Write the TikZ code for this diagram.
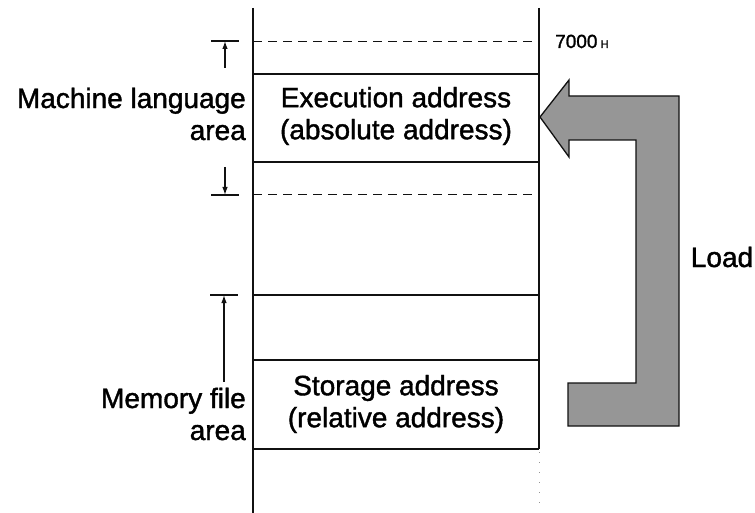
\documentclass[tikz,border=0pt]{standalone}
\usepackage{fontspec}
\setmainfont{Liberation Sans}[FakeBold=1.4]
\usetikzlibrary{arrows.meta,calc}
\definecolor{ink}{HTML}{111111}
\definecolor{stipple}{HTML}{969696}

\begin{document}
\begin{tikzpicture}[
  x=1pt, y=-1pt,
  font=\fontsize{28}{32}\selectfont,
  rule/.style={draw=ink, line width=1.1pt},
  boundary/.style={draw=ink, line width=.8pt, dash pattern=on 9pt off 6pt},
  extent/.style={draw=ink, line width=1.2pt, -{Latex[length=8pt,width=5.5pt]}},
  label/.style={inner sep=0pt, align=center},
  side/.style={inner sep=0pt, align=right, anchor=east},
  address/.style={inner sep=0pt, anchor=base west, font=\fontsize{19}{22}\selectfont},
  load/.style={draw=ink, line width=1.3pt, fill=stipple, line join=miter}
]
\useasboundingbox (0,0) rectangle (755,513);

% Memory column: two edges, area boundaries across it.
\coordinate (col-nw) at (253,8);
\coordinate (col-ne) at (539,8);
\draw[rule] (col-nw) -- (253,513);
\draw[rule] (col-ne) -- (539,449);
\draw[ink!45, line width=.9pt, dash pattern=on 1pt off 9pt] (539,452) -- (539,508);
\foreach \y/\kind in {41/boundary,74/rule,162/rule,194/boundary,
  295/rule,360/rule,449/rule} {
  \draw[\kind] (253,\y) -- (539,\y);
}

\node[label] (exec) at (396,116) {Execution address\\(absolute address)};
\node[label] (store) at (396,404) {Storage address\\(relative address)};
\node[address] (origin) at (555,48) {7000\,{\fontsize{11}{12}\selectfont H}};

\node[side] (machine) at (246,114) {Machine language\\area};
\node[side] (memfile) at (246,414) {Memory file\\area};

% Extent marks left of the column.
\coordinate (ml-hi) at (225,41);
\coordinate (ml-lo) at (225,195);
\coordinate (mf-hi) at (224,295);
\foreach \mark in {ml-hi,ml-lo,mf-hi} {
  \draw[rule] ($(\mark)+(-14,0)$) -- ($(\mark)+(14,0)$);
}
\draw[extent] (225,68) -- (ml-hi);
\draw[extent] (225,167) -- (ml-lo);
\draw[extent] (memfile.north -| mf-hi) ++(0,-6) -- (mf-hi);

% Load arrow from storage back to execution area.
\draw[load] (540,117) -- (569,80) -- (569,96) -- (679,96) -- (679,426)
  -- (568,426) -- (568,383) -- (636,383) -- (636,140) -- (569,140)
  -- (569,157) -- cycle;
\node[label] (load) at (722,257) {Load};
\end{tikzpicture}
\end{document}
